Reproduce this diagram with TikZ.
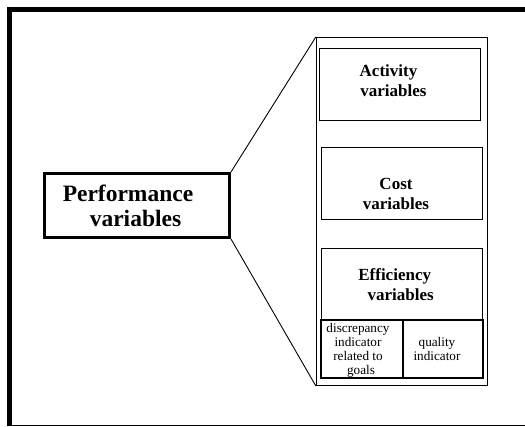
\documentclass[tikz,border=0pt]{standalone}
\usepackage{fontspec}
\setmainfont{Liberation Serif}

\begin{document}
\begin{tikzpicture}[x=1pt,y=-1pt]
		\tikzset{box/.style={draw,rectangle,line width=1.2pt,inner sep=0pt}}
		\tikzset{lbl/.style={anchor=base,align=center,inner sep=0pt}}
		\tikzset{bigtxt/.style={lbl,font=\fontsize{23.5}{25.5}\selectfont\bfseries}}
		\tikzset{midtxt/.style={lbl,font=\fontsize{17}{20}\selectfont\bfseries}}
		\tikzset{smalltxt/.style={lbl,font=\fontsize{13.2}{14}\selectfont}}

		\useasboundingbox (0,0) rectangle (525,427);

		% frame
		\draw[line width=5pt] (9.5,426) -- (9.5,9.5) -- (525,9.5);
		\draw[line width=1pt] (9.5,426) -- (525,426);

		\node[box,line width=3pt,minimum width=185pt,minimum height=64pt] (perf) at (137,205.5) {};
		\node[bigtxt] (perftxt) at (128,227) {Performance\\\hspace*{15pt}variables};

		\node[box,minimum width=171pt,minimum height=348pt] (panel) at (402,211.5) {};
		\node[box,minimum width=161pt,minimum height=72pt] (act) at (400,84.5) {};
		\node[box,minimum width=161pt,minimum height=72pt] (cost) at (402,183.5) {};
		\node[box,minimum width=161pt,minimum height=71pt] (eff) at (402,284) {};
		\node[box,minimum width=82pt,minimum height=58pt] (disc) at (362,349) {};
		\node[box,minimum width=80pt,minimum height=58pt] (qual) at (443,349) {};

		% text sits on the baseline of its last line
		\node[midtxt] (acttxt) at (388.5,97) {Activity\\\hspace*{10pt}variables};
		\node[midtxt] (costtxt) at (396,210) {Cost\\variables};
		\node[midtxt] (efftxt) at (394.7,301) {Efficiency\\\hspace*{12pt}variables};
		\node[smalltxt] (disctxt) at (358,375) {discrepancy\\indicator\\related to\\\hspace*{6pt}goals};
		\node[smalltxt] (qualtxt) at (437,361) {quality\\indicator};

		\draw[line width=0.9pt] (perf.north east) -- (panel.north west);
		\draw[line width=0.9pt] (perf.south east) -- (panel.south west);
\end{tikzpicture}
\end{document}
